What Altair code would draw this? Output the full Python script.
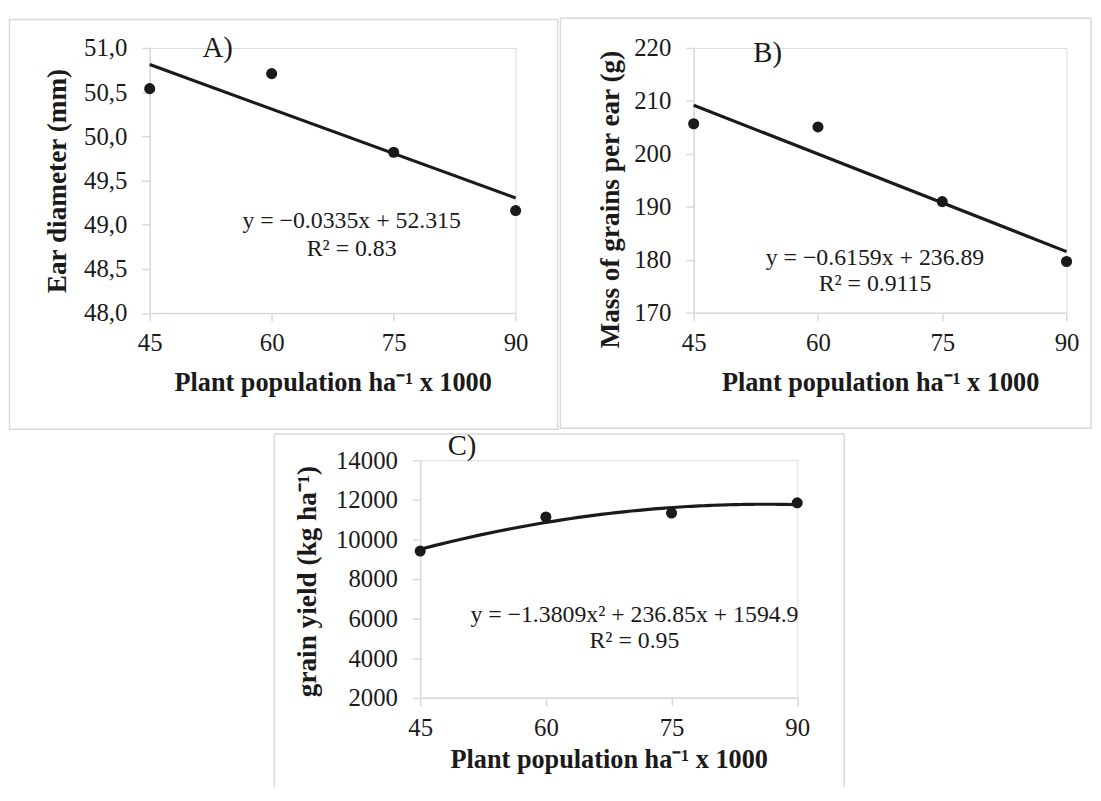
import altair as alt
import pandas as pd

# ---- data ----
population = [45, 60, 75, 90]
ear_diameter = [50.54, 50.71, 49.82, 49.16]
grain_mass = [205.7, 205.1, 191.0, 179.7]
grain_yield = [9409, 11131, 11330, 11847]

x_ticks = [45, 60, 75, 90]
a_ticks = [48.0, 48.5, 49.0, 49.5, 50.0, 50.5, 51.0]
b_ticks = [170, 180, 190, 200, 210, 220]
c_ticks = [2000, 4000, 6000, 8000, 10000, 12000, 14000]

x_title = "Plant population ha⁻¹ x 1000"
a_title = "Ear diameter (mm)"
b_title = "Mass of grains per ear (g)"
c_title = "grain yield (kg ha⁻¹)"

a_eq = ["y = −0.0335x + 52.315", "R² = 0.83"]
b_eq = ["y = −0.6159x + 236.89", "R² = 0.9115"]
c_eq = ["y = −1.3809x² + 236.85x + 1594.9", "R² = 0.95"]

FONT = "Liberation Serif"
INK = "#1a1a1a"
GRAY = "#d9d9d9"

one = pd.DataFrame({"k": [0]})


def panel(values, y_domain, y_ticks, y_title, label_expr, w, h, box, closed,
          ytitle_pos, xtitle_y, tag, tag_pos, eq, eq_pos, method):
    df = pd.DataFrame({"x": population, "y": values})
    xenc = alt.X("x:Q", scale=alt.Scale(domain=[45, 90], nice=False, zero=False),
                 axis=alt.Axis(values=x_ticks, title=x_title, grid=False,
                               domainColor=GRAY, domainWidth=1.5, tickColor=GRAY,
                               tickWidth=1.5, tickSize=8, labelFont=FONT,
                               labelFontSize=25, labelColor=INK, labelPadding=10,
                               labelFlush=False, labelOverlap=False,
                               titleFont=FONT, titleFontSize=26.5,
                               titleFontWeight="bold", titleColor=INK,
                               titleX=w / 2, titleY=xtitle_y, titleAlign="center",
                               titleBaseline="middle"))
    yenc = alt.Y("y:Q", scale=alt.Scale(domain=y_domain, nice=False, zero=False),
                 axis=alt.Axis(values=y_ticks, title=y_title, grid=False,
                               domainColor=GRAY, domainWidth=1.5, tickColor=GRAY,
                               tickWidth=1.5, tickSize=8, labelFont=FONT,
                               labelFontSize=25, labelColor=INK, labelPadding=15,
                               labelFlush=False, labelOverlap=False,
                               labelExpr=label_expr,
                               titleFont=FONT, titleFontSize=27.5,
                               titleFontWeight="bold", titleColor=INK,
                               titleAngle=270, titleX=ytitle_pos[0],
                               titleY=ytitle_pos[1], titleAlign="center",
                               titleBaseline="middle"))
    base = alt.Chart(df)
    x1, x2, y1, y2 = box
    layers = []
    if closed:
        layers.append(alt.Chart(one).mark_rect(filled=False, color=GRAY, strokeWidth=1.5).encode(
            x=alt.value(x1), x2=alt.value(x2), y=alt.value(y1), y2=alt.value(y2)))
    else:
        # open-bottom frame (its bottom edge lies below the page)
        for sx1, sx2, sy1, sy2 in [(x1, x1, y1, y2), (x2, x2, y1, y2), (x1, x2, y1, y1)]:
            layers.append(alt.Chart(one).mark_rule(color=GRAY, strokeWidth=1.5).encode(
                x=alt.value(sx1), x2=alt.value(sx2), y=alt.value(sy1), y2=alt.value(sy2)))
    if method == "linear":
        fit = base.transform_regression("x", "y", method="linear")
    else:
        fit = base.transform_regression("x", "y", method="poly", order=2)
    layers.append(fit.mark_line(color=INK, strokeWidth=3.2).encode(x=xenc, y=yenc))
    layers.append(base.mark_circle(size=125, color=INK, opacity=1).encode(x=xenc, y=yenc))
    layers.append(alt.Chart(one).mark_text(font=FONT, fontSize=29, color=INK,
                                           align="center", baseline="middle").encode(
        x=alt.value(tag_pos[0]), y=alt.value(tag_pos[1]), text=alt.value(tag)))
    for i, line in enumerate(eq):
        layers.append(alt.Chart(one).mark_text(font=FONT, fontSize=24, color=INK,
                                               align="center", baseline="middle").encode(
            x=alt.value(eq_pos[0]), y=alt.value(eq_pos[1] + i * eq_pos[2]), text=alt.value(line)))
    return alt.layer(*layers).properties(width=w, height=h)


comma_expr = "replace(format(datum.value, '.1f'), '.', ',')"

panel_a = panel(ear_diameter, [48, 51], a_ticks, a_title, comma_expr, 369.3, 267.5,
                (-141.5, 411.7, -28.8, 384.8), True, (-92.5, 133.75), 70.2,
                "A)", (68.7, 0.0), a_eq, (203.8, 175.0, 27.6), "linear")
panel_b = panel(grain_mass, [170, 220], b_ticks, b_title, "format(datum.value, 'd')",
                376.3, 267.3, (-134.5, 401.0, -30.0, 383.8), True, (-83.5, 152.5), 70.0,
                "B)", (74.7, 5.0), b_eq, (183.0, 211.8, 26.7), "linear")
panel_c = panel(grain_yield, [2000, 14000], c_ticks, c_title, "format(datum.value, 'd')",
                380.5, 239.7, (-147.3, 428.0, -26.5, 330.0), False, (-113.5, 122.0), 62.3,
                "C)", (42.2, -14.5), c_eq, (216.2, 156.0, 26.7), "poly")

# tiny blank cell that pushes panel C to its place on the second row
spacer = alt.Chart(one).mark_text(text=" ", fontSize=1, opacity=0).encode(
    x=alt.value(0), y=alt.value(0)
).properties(
    width=1, height=1,
    view=alt.ViewBackground(stroke="transparent", fill="transparent", strokeWidth=0, opacity=0),
)

chart = alt.vconcat(
    alt.hconcat(panel_a, panel_b, spacing=0),
    alt.hconcat(spacer, panel_c, spacing=123),
    spacing=0,
).properties(
    padding={"left": 0, "top": 4.75, "right": 0, "bottom": 0}
).configure_view(strokeWidth=0, stroke="transparent").configure(background="white")

chart.save("out.html", embed_options={"renderer": "svg", "actions": False})
